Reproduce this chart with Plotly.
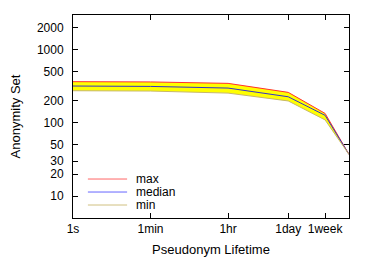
import plotly.graph_objects as go

lifetime_s = [1, 60, 3600, 21600, 86400, 604800, 2140000]
max_vals = [367, 364, 348, 297, 262, 135, 37]
median_vals = [320, 316, 300, 255, 228, 127, 37]
min_vals = [276, 273, 256, 222, 200, 110, 37]

series_names = ["max", "median", "min"]
series_colors = ["#ff3030", "#3434c8", "#c8b868"]
legend_colors = ["#ff6666", "#6666ff", "#d0c080"]

x_tickvals = [1, 60, 3600, 86400, 604800]
x_ticktext = ["1s", "1min", "1hr", "1day", "1week"]
y_tickvals = [10, 20, 30, 50, 100, 200, 500, 1000, 2000]
y_ticktext = ["10", "20", "30", "50", "100", "200", "500", "1000", "2000"]

FONT = "Liberation Sans, Arial, sans-serif"

fig = go.Figure()
# yellow band between min and max
fig.add_trace(go.Scatter(x=lifetime_s, y=min_vals, mode="lines",
                         line=dict(width=0, color="rgba(0,0,0,0)"),
                         showlegend=False, hoverinfo="skip"))
fig.add_trace(go.Scatter(x=lifetime_s, y=max_vals, mode="lines",
                         line=dict(width=0, color="rgba(0,0,0,0)"),
                         fill="tonexty", fillcolor="#ffff00",
                         showlegend=False, hoverinfo="skip"))
for name, vals, col in zip(series_names, [max_vals, median_vals, min_vals], series_colors):
    fig.add_trace(go.Scatter(x=lifetime_s, y=vals, mode="lines", name=name,
                             line=dict(color=col, width=1), showlegend=False))

# compact gnuplot-style legend
leg_y = [0.192, 0.128, 0.064]
for name, col, yy in zip(series_names, legend_colors, leg_y):
    fig.add_shape(type="line", xref="paper", yref="paper", x0=0.054, x1=0.196,
                  y0=yy, y1=yy, line=dict(color=col, width=1))
    fig.add_annotation(xref="paper", yref="paper", x=0.225, y=yy, text=name,
                       showarrow=False, xanchor="left", yanchor="middle",
                       borderpad=0,
                       font=dict(family=FONT, size=12, color="black"))

axis_common = dict(showline=True, linecolor="black", linewidth=1, mirror="ticks",
                   ticks="inside", ticklen=5, tickcolor="black", tickwidth=1,
                   showgrid=False, zeroline=False, automargin=False,
                   tickfont=dict(family=FONT, size=12, color="black"))

fig.update_xaxes(type="log", range=[0, 6.33], tickmode="array",
                 tickvals=x_tickvals, ticktext=x_ticktext,
                 title=dict(text="Pseudonym Lifetime", font=dict(family=FONT, size=13, color="black"),
                            standoff=9),
                 ticklabelstandoff=0, **axis_common)
fig.update_yaxes(type="log", range=[0.69897, 3.4771], tickmode="array",
                 tickvals=y_tickvals, ticktext=y_ticktext,
                 title=dict(text="Anonymity Set", font=dict(family=FONT, size=13, color="black"),
                            standoff=21),
                 ticklabelstandoff=6, **axis_common)

# page body has an 8px default margin, so the figure is 8px smaller
fig.update_layout(
    template="none",
    width=366, height=253,
    margin=dict(l=65, r=25, t=7, b=43),
    paper_bgcolor="white", plot_bgcolor="white",
    font=dict(family=FONT, size=13, color="black"),
    showlegend=False,
)

fig.write_html("out.html")
